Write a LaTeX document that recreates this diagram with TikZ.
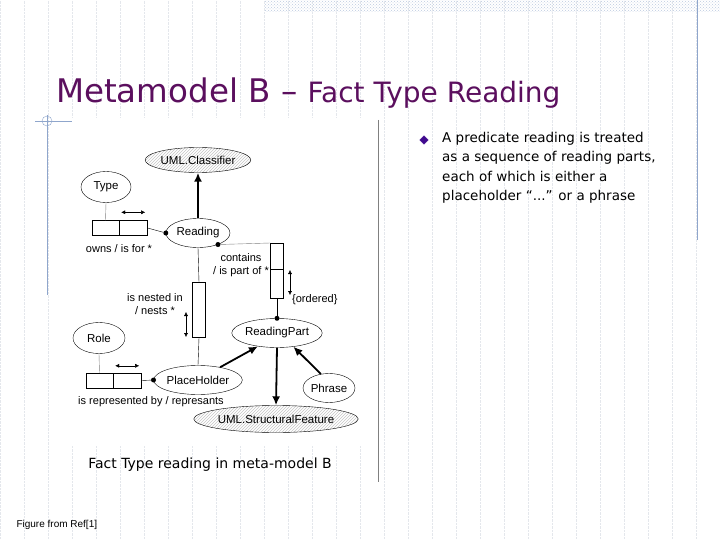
\documentclass[tikz,border=0pt]{standalone}
\usepackage{fontspec}
\setmainfont{Liberation Sans}
\newfontfamily\dvs{DejaVu Sans}
\usetikzlibrary{patterns,arrows.meta,shapes.geometric}
\definecolor{ttl}{HTML}{5B0F5E}
\definecolor{gridc}{HTML}{E4E7EC}
\definecolor{rule}{HTML}{8FA6CC}
\begin{document}
\begin{tikzpicture}[x=1pt,y=-1pt,
  ell/.style={draw,ellipse,inner sep=0pt,font=\fontsize{11.5}{13}\selectfont},
  hatch/.style={ell,pattern=north east lines,pattern color=gray!45},
  rbox/.style={draw,rectangle,inner sep=0pt,fill=white},
  thick arrow/.style={line width=1.8pt,-{Latex[length=9pt,width=8pt]}},
  dbl/.style={{Latex[length=4pt,width=4pt]}-{Latex[length=4pt,width=4pt]},thin},
  lbl/.style={font=\fontsize{11}{12.5}\selectfont,inner sep=1pt,align=center},
  dot/.style={circle,fill,inner sep=0pt,minimum size=5pt}]
\useasboundingbox (0,0) rectangle (720,540);
\fill[white] (0,0) rectangle (720,540);
\draw[gridc,densely dotted,step=24] (0,0) grid (720,540);
\fill[pattern=crosshatch dots,pattern color=rule!60] (265,0) rectangle (720,12);
\draw[rule] (697,0) -- (697,240);
% title
\node[anchor=base west,text=ttl,inner sep=0pt] (title) at (56,103) {\dvs\fontsize{32.5}{36}\selectfont Metamodel B – \fontsize{28}{32}\selectfont Fact Type Reading};
\draw[rule] (35,121) -- (173,121);
\draw[rule] (47,115) -- (47,295);
\draw[rule] (47,121) circle (5);
% diagram area
\fill[white] (72,118) rectangle (368,446);
\draw[gray] (378,120) -- (378,482);
% nodes
\node[hatch,minimum width=92,minimum height=25] (cls) at (198,160) {UML.Classifier};
\node[ell,minimum width=50,minimum height=31] (type) at (106,187) {Type};
\node[ell,fill=white,minimum width=64,minimum height=29] (rd) at (198,233) {Reading};
\node[ell,minimum width=52,minimum height=31] (role) at (99,338) {Role};
\node[ell,fill=white,minimum width=80,minimum height=29] (ph) at (198,380) {PlaceHolder};
\node[ell,fill=white,minimum width=84,minimum height=29] (rp) at (277,333) {ReadingPart};
\node[ell,minimum width=52,minimum height=29] (phr) at (329,388) {Phrase};
\node[hatch,minimum width=128,minimum height=27] (sf) at (276,419) {UML.StructuralFeature};
% type fact box
\node[rbox,minimum width=27,minimum height=15] (t1) at (105.5,228) {};
\node[rbox,minimum width=28,minimum height=15,anchor=west] (t2) at (t1.east) {};
\draw[gray] (type.south) -- (t1.north);
\draw[dbl] ([xshift=2]t2.north west) ++(0,-8) coordinate (ta) -- ++(24,0);
\node[dot] (d1) at (rd.west) {};
\draw (t2.east) -- (d1);
\node[lbl,anchor=north] (own) at (119,243) {owns / is for *};
% role fact box
\node[rbox,minimum width=27,minimum height=15] (r1) at (99.5,380.5) {};
\node[rbox,minimum width=28,minimum height=15,anchor=west] (r2) at (r1.east) {};
\draw[gray] (role.south) -- (r1.north);
\draw[dbl] ([xshift=2]r2.north west) ++(0,-7) -- ++(24,0);
\node[dot] (d2) at (ph.west) {};
\draw (r2.east) -- (d2);
\node[lbl,anchor=north] (rep) at (151,395) {is represented by / represants};
% nested box
\node[rbox,minimum width=13,minimum height=55] (nb) at (199,310) {};
\draw (rd.south) -- (nb.north);
\draw (nb.south) -- (ph.north);
\draw[dbl] (186,312) -- (186,337);
\node[lbl,anchor=east] (nest) at (184,304) {is nested in\\/ nests *};
% contains box
\node[rbox,minimum width=13,minimum height=26,anchor=north] (c1) at (277,243) {};
\node[rbox,minimum width=13,minimum height=29,anchor=north] (c2) at (c1.south) {};
\node[dot] (d3) at (rd.-30) {};
\draw[gray] (d3) -- (c1.north west);
\node[dot] (d4) at (rp.north) {};
\draw (c2.south) -- (d4);
\draw[dbl] (290,270) -- (290,295);
\node[lbl,anchor=east] (cont) at (270,265) {contains\\/ is part of *};
\node[lbl,anchor=west] (ord) at (291,300) {\{ordered\}};
% arrows
\draw[thick arrow] (rd.north) -- (cls.south);
\draw[thick arrow] (ph.30) -- (rp.215);
\draw[thick arrow] (rp.south) -- (sf.north);
\draw[thick arrow] (phr.120) -- (rp.-40);
% captions
\node[anchor=base,font=\dvs\fontsize{14}{16}\selectfont] (cap) at (210,468) {Fact Type reading in meta-model B};
\node[anchor=base west,font=\fontsize{10}{12}\selectfont] (fig) at (13,527) {Figure from Ref[1]};
% bullet
\node[diamond,fill=ttl!70!blue,inner sep=2.5pt,draw=white] (bul) at (424,140) {};
\node[anchor=north west,align=left,font=\dvs\fontsize{13.5}{19.5}\selectfont,inner sep=0pt] (txt) at (442,132)
 {A predicate reading is treated\\as a sequence of reading parts,\\each of which is either a\\placeholder “...” or a phrase};
\end{tikzpicture}
\end{document}
